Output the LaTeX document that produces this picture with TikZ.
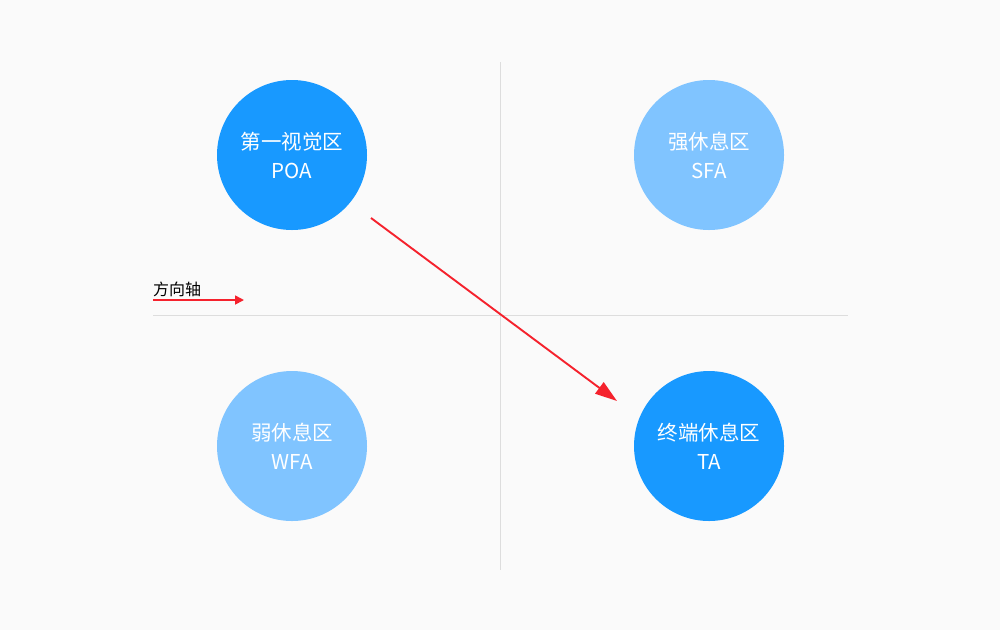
\documentclass[tikz,border=0pt]{standalone}
\usepackage{fontspec}
\setmainfont{Noto Sans CJK SC}
\newfontfamily\cjk{Noto Sans CJK SC}
\usetikzlibrary{arrows.meta}
\definecolor{bg}{HTML}{FAFAFA}
\definecolor{dark}{HTML}{1899FF}
\definecolor{light}{HTML}{80C4FF}
\definecolor{axis}{HTML}{DDDDDD}
\definecolor{arr}{HTML}{F5222D}
\tikzset{
  zone/.style={circle, minimum size=150pt, inner sep=0pt, text=white, align=center, font=\cjk\fontsize{20.5}{29}\selectfont},
  darkzone/.style={zone, fill=dark},
  lightzone/.style={zone, fill=light},
  axisline/.style={draw=axis, line width=1pt},
  redarrow/.style={draw=arr, line width=1.9pt, -{Triangle[length=22pt,width=14pt]}},
}
\begin{document}
\begin{tikzpicture}[x=1pt,y=-1pt]
\fill[bg] (0,0) rectangle (1000,630);
\useasboundingbox (0,0) rectangle (1000,630);
\coordinate (vt) at (500,62);
\coordinate (vb) at (500,570);
\coordinate (hl) at (153,315);
\coordinate (hr) at (848,315);
\draw[axisline] (vt) -- (vb);
\draw[axisline] (hl) -- (hr);
\node[darkzone] (poa) at (292,155) {第一视觉区\\POA};
\node[lightzone] (sfa) at (709,155) {强休息区\\SFA};
\node[lightzone] (wfa) at (292,446) {弱休息区\\WFA};
\node[darkzone] (ta) at (709,446) {终端休息区\\TA};
\coordinate (as) at (371,218);
\coordinate (ae) at (617,401);
\draw[redarrow] (as) -- (ae);
\coordinate (ds) at (153,300);
\coordinate (de) at (244,300);
\draw[draw=arr, line width=1.7pt, -{Triangle[length=9pt,width=9pt]}] (ds) -- (de);
\node[anchor=west, inner sep=0pt, font=\cjk\fontsize{16}{18}\selectfont] (lab) at (153,289) {方向轴};
\end{tikzpicture}
\end{document}
